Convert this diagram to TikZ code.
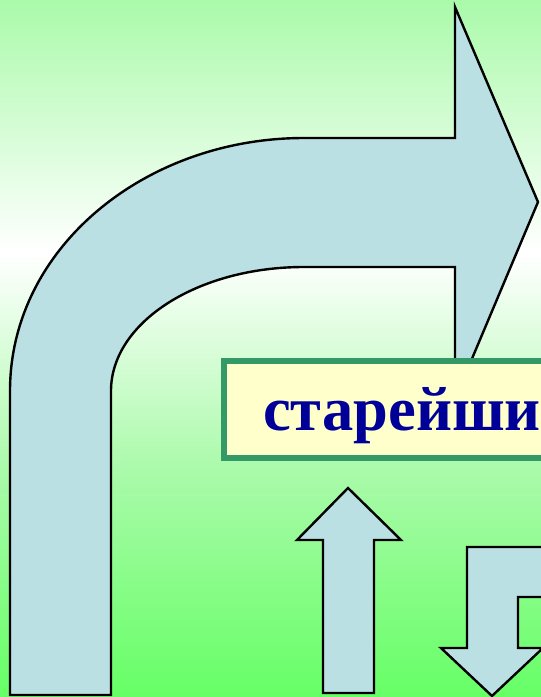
\documentclass[tikz,border=0pt]{standalone}
\usepackage{fontspec}
\setmainfont{Liberation Serif}
\definecolor{bgtop}{HTML}{AAFAAA}
\definecolor{bgmid}{HTML}{AAFAAA}
\definecolor{bgbot}{HTML}{66FF66}
\definecolor{arrowfill}{HTML}{BBE0E3}
\definecolor{boxfill}{HTML}{FFFFCC}
\definecolor{boxgreen}{HTML}{339966}
\definecolor{textblue}{HTML}{000099}
\pgfdeclareverticalshading{bgshade}{100bp}{color(0bp)=(bgbot); color(25bp)=(bgbot); color(41.28bp)=(bgmid); color(56.85bp)=(white); color(75bp)=(bgtop); color(100bp)=(bgtop)}
\tikzset{
  arrowshape/.style={draw=black, fill=arrowfill, line width=2.4pt, line join=miter},
  labelbox/.style={rectangle, draw=boxgreen, fill=boxfill, line width=5.5pt, inner sep=0pt, outer sep=0pt, anchor=north west},
  labeltext/.style={anchor=base west, inner sep=0pt, text=textblue, font=\fontsize{62.5}{62.5}\selectfont\bfseries}
}
\begin{document}
\begin{tikzpicture}[x=1pt, y=-1pt]
\useasboundingbox (0,0) rectangle (541,697);
\clip (0,0) rectangle (541,697);
\shade[shading=bgshade] (0,0) rectangle (541,697);
% big bent arrow
\draw[arrowshape] (10,695) -- (10,391)
  .. controls (10,248) and (145,138) .. (304,138)
  -- (455,138) -- (455,7) -- (538,202) -- (455,399) -- (455,267) -- (304,267)
  .. controls (197.4,267) and (111,322.5) .. (111,391)
  -- (111,695) -- cycle;
% label box
\node[labelbox, minimum width=420pt, minimum height=97pt] (box) at (224,361) {};
\node[labeltext] (lbl) at (263,430) {старейши};
% up arrow
\draw[arrowshape] (348,488) -- (401,540) -- (374,540) -- (374,693) -- (323,693) -- (323,540) -- (297,540) -- cycle;
% down bent arrow
\draw[arrowshape] (467,547) -- (600,547) -- (600,597) -- (518,597) -- (518,648) -- (543,648) -- (492,696) -- (441,648) -- (467,648) -- cycle;
\end{tikzpicture}
\end{document}
